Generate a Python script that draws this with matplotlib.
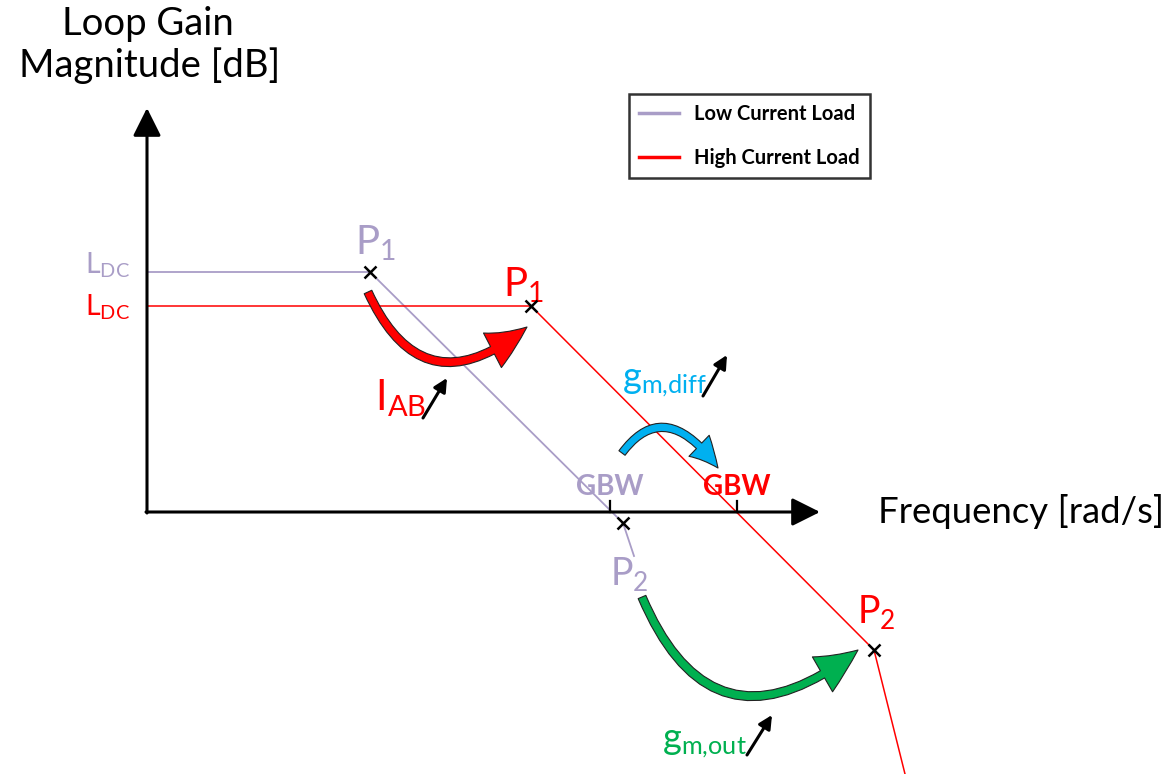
import matplotlib
matplotlib.use('Agg')
import matplotlib.pyplot as plt
from matplotlib.patches import FancyArrowPatch
from matplotlib.lines import Line2D
from matplotlib.path import Path

plt.rcParams['font.family'] = ['Lato', 'DejaVu Sans']
plt.rcParams['mathtext.fontset'] = 'custom'
plt.rcParams['mathtext.rm'] = 'Lato'
plt.rcParams['mathtext.it'] = 'Lato:italic'
plt.rcParams['mathtext.bf'] = 'Lato:bold'

# ---- data (diagram units: frequency to the right, gain upward; origin = axes crossing)
low_freq = [0, 223, 476, 487]
low_gain = [240, 240, -11, -44]
high_freq = [0, 384, 727, 758]
high_gain = [206, 206, -138, -262]
low_pole_freq = [223, 476]
low_pole_gain = [240, -11]
high_pole_freq = [384, 727]
high_pole_gain = [206, -138]
gbw_freq = [463, 590]
series_labels = ['Low Current Load', 'High Current Load']

LAV = '#A99DC7'
RED = '#FF0000'
BLUE = '#00B0F0'
GREEN = '#00B050'

fig = plt.figure(figsize=(11.76, 7.74), dpi=100)
ax = fig.add_axes([0, 0, 1, 1])
ax.set_xlim(-147, 1029)
ax.set_ylim(-262, 512)
ax.axis('off')

# axes arrows
ax.annotate('', xy=(0, 404), xytext=(0, -1),
            arrowprops=dict(arrowstyle='-|>', lw=2.2, color='black', mutation_scale=43,
                            shrinkA=0, shrinkB=0))
ax.annotate('', xy=(673, 0), xytext=(-1, 0),
            arrowprops=dict(arrowstyle='-|>', lw=2.2, color='black', mutation_scale=43,
                            shrinkA=0, shrinkB=0))

# curves
ax.plot(low_freq, low_gain, color=LAV, lw=1.3, zorder=2)
ax.plot(high_freq, high_gain, color=RED, lw=1.1, zorder=2)

# GBW ticks
for f in gbw_freq:
    ax.plot([f, f], [0, 11], color='black', lw=1.6, zorder=3)

# poles
ax.plot(low_pole_freq, low_pole_gain, 'x', color='black', ms=8.5, mew=1.8, zorder=4)
ax.plot(high_pole_freq, high_pole_gain, 'x', color='black', ms=8.5, mew=1.8, zorder=4)

# axis labels
ax.text(1, 477, 'Loop Gain', ha='center', va='baseline', fontsize=27.5)
ax.text(3, 435, 'Magnitude [dB]', ha='center', va='baseline', fontsize=27.5)
ax.text(731, -11, 'Frequency [rad/s]', ha='left', va='baseline', fontsize=26.3)

# labels
ax.text(-62, 239, r'$\mathregular{L_{DC}}$', color=LAV, fontsize=20.5, va='baseline')
ax.text(-62, 197, r'$\mathregular{L_{DC}}$', color=RED, fontsize=20.5, va='baseline')
ax.text(208, 257, r'$\mathregular{P_1}$', color=LAV, fontsize=29, va='baseline')
ax.text(356, 215, r'$\mathregular{P_1}$', color=RED, fontsize=29, va='baseline')
ax.text(463, 17, 'GBW', color=LAV, fontsize=20, fontweight='bold', ha='center', va='baseline')
ax.text(590, 17, 'GBW', color=RED, fontsize=20, fontweight='bold', ha='center', va='baseline')
ax.text(463, -73, r'$\mathregular{P_2}$', color=LAV, fontsize=27, va='baseline', zorder=5)
ax.text(710, -111, r'$\mathregular{P_2}$', color=RED, fontsize=27, va='baseline')
ax.text(228, 102, r'$\mathregular{I_{AB}}$', color=RED, fontsize=30, va='baseline')
ax.text(475, 123, r'$\mathregular{g_{m{,}diff}}$', color=BLUE, fontsize=26, va='baseline')
ax.text(515, -238, r'$\mathregular{g_{m{,}out}}$', color=GREEN, fontsize=26, va='baseline')

# small black arrows
for (x0, y0), (x1, y1) in [((276, 94), (300, 134)), ((556, 116), (580, 157)),
                           ((600, -243), (625, -203))]:
    ax.annotate('', xy=(x1, y1), xytext=(x0, y0),
                arrowprops=dict(arrowstyle='-|>', lw=2.2, color='black', mutation_scale=20,
                                shrinkA=0, shrinkB=0))

# big curved arrows: (start, control, end)
def curved_arrow(p0, pc, p2, color, tail, hw, hl):
    path = Path([p0, pc, p2], [Path.MOVETO, Path.CURVE3, Path.CURVE3])
    a = FancyArrowPatch(path=path,
                        arrowstyle=f'simple,head_length={hl},head_width={hw},tail_width={tail}',
                        mutation_scale=1, facecolor=color, edgecolor='#222222', lw=0.8,
                        shrinkA=0, shrinkB=0, zorder=6)
    ax.add_patch(a)

curved_arrow((221, 220), (276, 100), (380, 185), RED, 6, 28, 30)
curved_arrow((475, 59), (518, 117), (571, 44), BLUE, 5.5, 21, 21)
curved_arrow((495, -85), (566, -252), (711, -138), GREEN, 6, 29, 31)

# legend
handles = [Line2D([], [], color=LAV, lw=2.5), Line2D([], [], color=RED, lw=2.5)]
leg = ax.legend(handles, series_labels, loc='upper left', bbox_to_anchor=(482, 418),
                bbox_transform=ax.transData, frameon=True, fancybox=False,
                prop={'family': 'Lato', 'weight': 'bold', 'size': 14.5},
                handlelength=2.0, handletextpad=0.75, labelspacing=1.2, borderpad=0.5,
                borderaxespad=0)
leg.get_frame().set_edgecolor('black')
leg.get_frame().set_linewidth(1.8)

fig.savefig('out.png', dpi=100)
